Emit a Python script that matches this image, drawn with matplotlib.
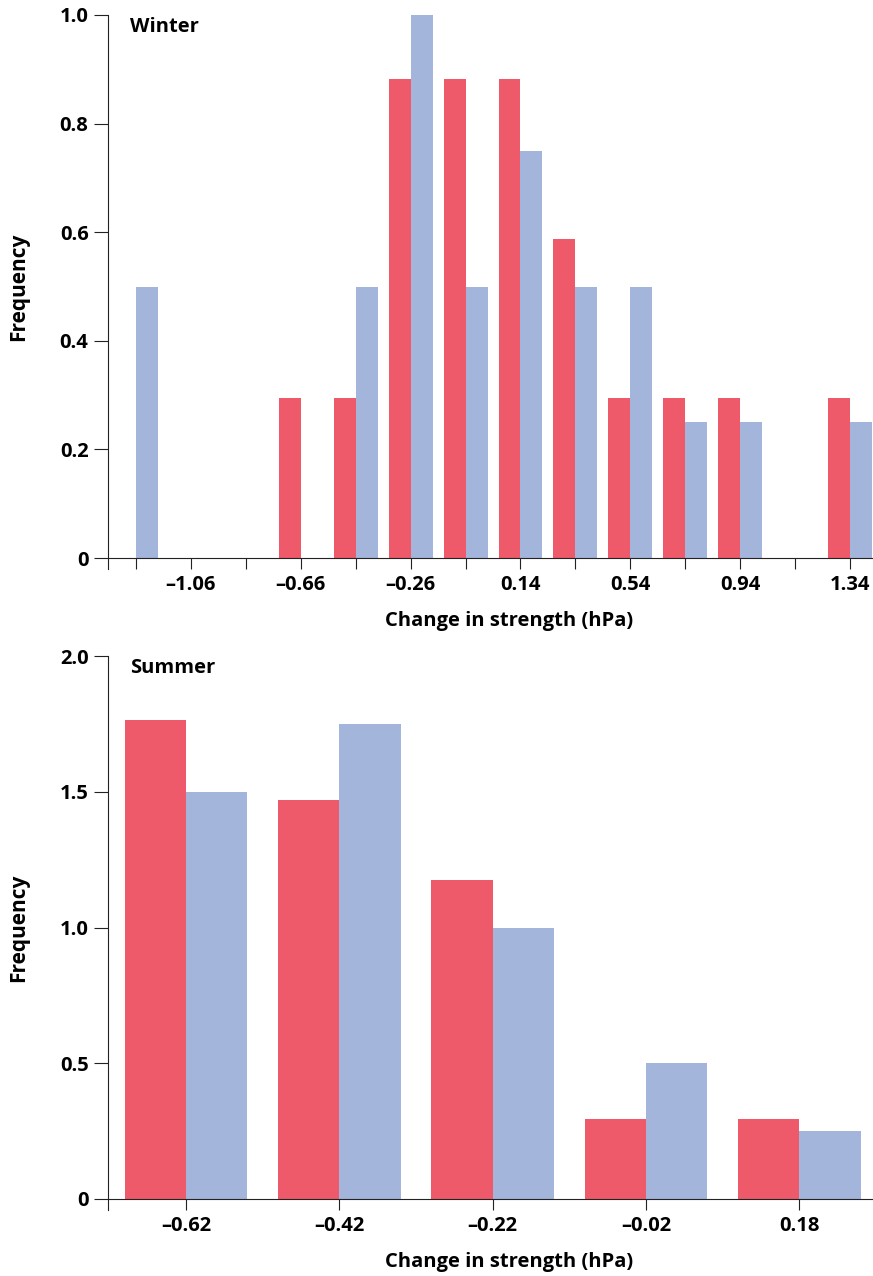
import matplotlib
matplotlib.use("Agg")
import matplotlib.pyplot as plt
from matplotlib.ticker import FixedLocator, FixedFormatter

# ---- data ----
winter_x = [-1.26, -1.06, -0.86, -0.66, -0.46, -0.26, -0.06, 0.14, 0.34, 0.54, 0.74, 0.94, 1.14, 1.34]
winter_red = [0, 0, 0, 0.294, 0.294, 0.882, 0.882, 0.882, 0.588, 0.294, 0.294, 0.294, 0, 0.294]
winter_blue = [0.5, 0, 0, 0, 0.5, 1.0, 0.5, 0.75, 0.5, 0.5, 0.25, 0.25, 0, 0.25]
winter_ticklabels = ["–1.06", "–0.66", "–0.26", "0.14", "0.54", "0.94", "1.34"]
winter_labelticks = [-1.06, -0.66, -0.26, 0.14, 0.54, 0.94, 1.34]
winter_yticks = [0, 0.2, 0.4, 0.6, 0.8, 1.0]
winter_yticklabels = ["0", "0.2", "0.4", "0.6", "0.8", "1.0"]

summer_x = [-0.62, -0.42, -0.22, -0.02, 0.18]
summer_red = [1.765, 1.471, 1.176, 0.294, 0.294]
summer_blue = [1.5, 1.75, 1.0, 0.5, 0.25]
summer_ticklabels = ["–0.62", "–0.42", "–0.22", "–0.02", "0.18"]
summer_yticks = [0, 0.5, 1.0, 1.5, 2.0]
summer_yticklabels = ["0", "0.5", "1.0", "1.5", "2.0"]

RED = "#EF5A6B"
BLUE = "#A4B5DC"
BW = 0.08
FS = 14.5

plt.rcParams['font.family'] = ['Open Sans', 'DejaVu Sans']
plt.rcParams['font.weight'] = 'bold'

fig = plt.figure(figsize=(8.73, 12.76), dpi=100)
W, H = 873, 1276

def px_axes(l, t, r, b):
    return fig.add_axes([l / W, 1 - b / H, (r - l) / W, (b - t) / H])

ax1 = px_axes(108, 15, 872, 558)
ax2 = px_axes(108, 656, 872, 1199)

def style(ax, ylim_top, ext):
    for s in ['top', 'right']:
        ax.spines[s].set_visible(False)
    for s in ['left', 'bottom']:
        ax.spines[s].set_linewidth(0.8)
        ax.spines[s].set_color('#222222')
    ax.spines['left'].set_bounds(-ext, ylim_top)
    ax.tick_params(axis='y', direction='out', length=10, width=0.8, pad=4,
                   labelsize=FS, colors='#222222', labelcolor='black')
    ax.tick_params(axis='x', which='both', direction='out', length=8, width=0.8, pad=4,
                   labelsize=FS, colors='#222222', labelcolor='black')
    ax.set_ylabel("Frequency", fontsize=15, fontweight='bold', labelpad=22)
    ax.set_xlabel("Change in strength (hPa)", fontsize=FS, fontweight='bold', labelpad=12)
    ax.xaxis.label.set_x(0.525)

# Winter
ax1.bar(winter_x, winter_red, width=-BW, align='edge', color=RED, linewidth=0)
ax1.bar(winter_x, winter_blue, width=BW, align='edge', color=BLUE, linewidth=0)
ax1.set_xlim(-1.362, 1.42)
ax1.set_ylim(0, 1.0)
style(ax1, 1.0, 0.02)
ax1.xaxis.set_major_locator(FixedLocator(winter_labelticks))
ax1.xaxis.set_major_formatter(FixedFormatter(winter_ticklabels))
ax1.xaxis.set_minor_locator(FixedLocator(winter_x))
ax1.yaxis.set_major_locator(FixedLocator(winter_yticks))
ax1.yaxis.set_major_formatter(FixedFormatter(winter_yticklabels))
ax1.text(0.029, 0.997, "Winter", transform=ax1.transAxes, ha='left', va='top',
         fontsize=FS, fontweight='bold')

# Summer
ax2.bar(summer_x, summer_red, width=-BW, align='edge', color=RED, linewidth=0)
ax2.bar(summer_x, summer_blue, width=BW, align='edge', color=BLUE, linewidth=0)
ax2.set_xlim(-0.722, 0.275)
ax2.set_ylim(0, 2.0)
style(ax2, 2.0, 0.04)
ax2.xaxis.set_major_locator(FixedLocator(summer_x))
ax2.xaxis.set_major_formatter(FixedFormatter(summer_ticklabels))
ax2.yaxis.set_major_locator(FixedLocator(summer_yticks))
ax2.yaxis.set_major_formatter(FixedFormatter(summer_yticklabels))
ax2.text(0.029, 0.997, "Summer", transform=ax2.transAxes, ha='left', va='top',
         fontsize=FS, fontweight='bold')

fig.savefig("out.png", dpi=100)
